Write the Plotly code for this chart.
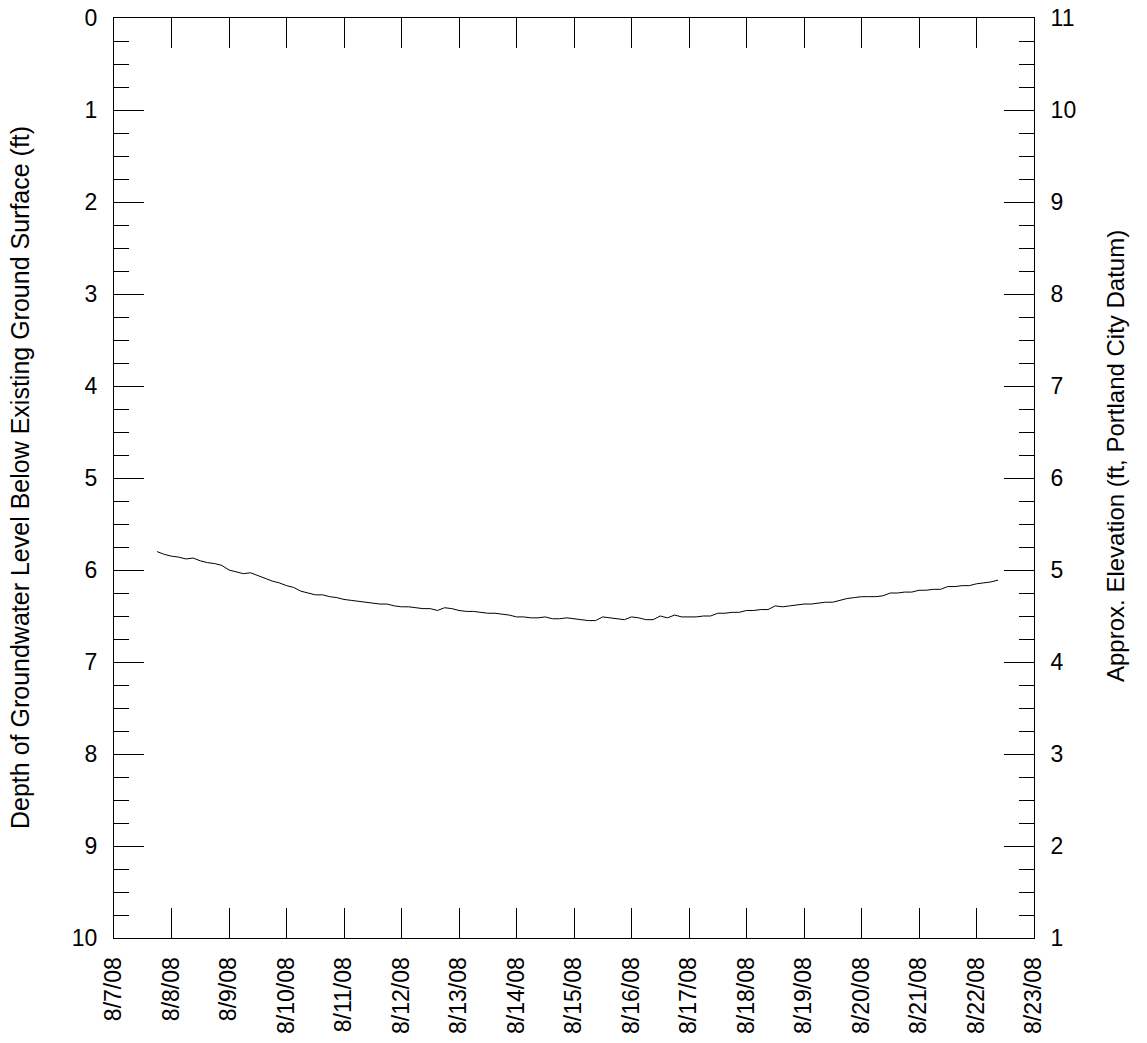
import plotly.graph_objects as go
from datetime import datetime, timedelta

start_time = "2008-08-07 18:00"
step_hours = 3
depth_ft = [
    5.80, 5.83,
    5.85, 5.86, 5.88, 5.87, 5.90, 5.92, 5.93, 5.95,
    6.00, 6.02, 6.04, 6.03, 6.06, 6.09, 6.12, 6.14,
    6.17, 6.19, 6.23, 6.25, 6.27, 6.27, 6.29, 6.30,
    6.32, 6.33, 6.34, 6.35, 6.36, 6.37, 6.37, 6.39,
    6.40, 6.40, 6.41, 6.42, 6.42, 6.44, 6.41, 6.42,
    6.44, 6.45, 6.45, 6.46, 6.47, 6.47, 6.48, 6.49,
    6.51, 6.51, 6.52, 6.52, 6.51, 6.53, 6.53, 6.52,
    6.53, 6.54, 6.55, 6.55, 6.51, 6.52, 6.53, 6.54,
    6.51, 6.52, 6.54, 6.54, 6.50, 6.52, 6.49, 6.51,
    6.51, 6.51, 6.50, 6.50, 6.47, 6.47, 6.46, 6.46,
    6.44, 6.44, 6.43, 6.43, 6.39, 6.40, 6.39, 6.38,
    6.37, 6.37, 6.36, 6.35, 6.35, 6.33, 6.31, 6.30,
    6.29, 6.29, 6.29, 6.28, 6.25, 6.25, 6.24, 6.24,
    6.22, 6.22, 6.21, 6.21, 6.18, 6.18, 6.17, 6.17,
    6.15, 6.14, 6.13, 6.11,
]
t0 = datetime.strptime(start_time, "%Y-%m-%d %H:%M")
times = [t0 + timedelta(hours=step_hours * i) for i in range(len(depth_ft))]

x_range = ["2008-08-07", "2008-08-23"]
left_range = [10, 0]     # depth, reversed
right_range = [1, 11]    # elevation
left_title = "Depth of Groundwater Level Below Existing Ground Surface (ft)"
right_title = "Approx. Elevation (ft, Portland City Datum)"

FONT = "Liberation Sans, Arial, sans-serif"
TICK_SIZE = 23

fig = go.Figure()
fig.add_trace(go.Scatter(x=times, y=depth_ft, mode="lines",
                         line=dict(color="black", width=1), showlegend=False))
# invisible trace to activate right axis
fig.add_trace(go.Scatter(x=[times[0]], y=[11 - depth_ft[0]], yaxis="y2",
                         mode="lines", line=dict(color="rgba(0,0,0,0)"),
                         showlegend=False, hoverinfo="skip"))

common_y = dict(
    dtick=1, ticks="inside", ticklen=30, tickwidth=1, tickcolor="black",
    minor=dict(dtick=0.25, ticks="inside", ticklen=15, tickcolor="black", showgrid=False),
    showline=True, linecolor="black", linewidth=1,
    showgrid=False, zeroline=False, tickfont=dict(size=TICK_SIZE),
    automargin=False, ticklabelstandoff=11,
)

fig.update_layout(
    width=1147, height=1043,
    margin=dict(l=114, r=113, t=18, b=105, autoexpand=False),
    paper_bgcolor="white", plot_bgcolor="white",
    font=dict(family=FONT, color="black", size=TICK_SIZE),
    xaxis=dict(
        range=x_range, type="date", dtick=86400000, tick0="2008-08-07",
        tickformat="%-m/%-d/%y", tickangle=-90,
        ticks="inside", ticklen=30, tickwidth=1, tickcolor="black",
        showline=True, linecolor="black", linewidth=1, mirror="ticks",
        showgrid=False, zeroline=False, tickfont=dict(size=TICK_SIZE),
        automargin=False, ticklabelstandoff=9,
    ),
    yaxis=dict(range=left_range, tick0=0, **common_y),
    yaxis2=dict(range=right_range, tick0=1, overlaying="y", side="right", **common_y),
    annotations=[
        dict(text=left_title, textangle=-90, xref="paper", yref="paper",
             x=(20 - 114) / 920, y=(938 - 478) / 920, xanchor="center", yanchor="middle",
             showarrow=False, font=dict(size=25)),
        dict(text=right_title, textangle=-90, xref="paper", yref="paper",
             x=(1115 - 114) / 920, y=(938 - 456) / 920, xanchor="center", yanchor="middle",
             showarrow=False, font=dict(size=24)),
    ],
)

fig.write_html("out.html", config={"displayModeBar": False},
               post_script="document.body.style.margin='0';")
